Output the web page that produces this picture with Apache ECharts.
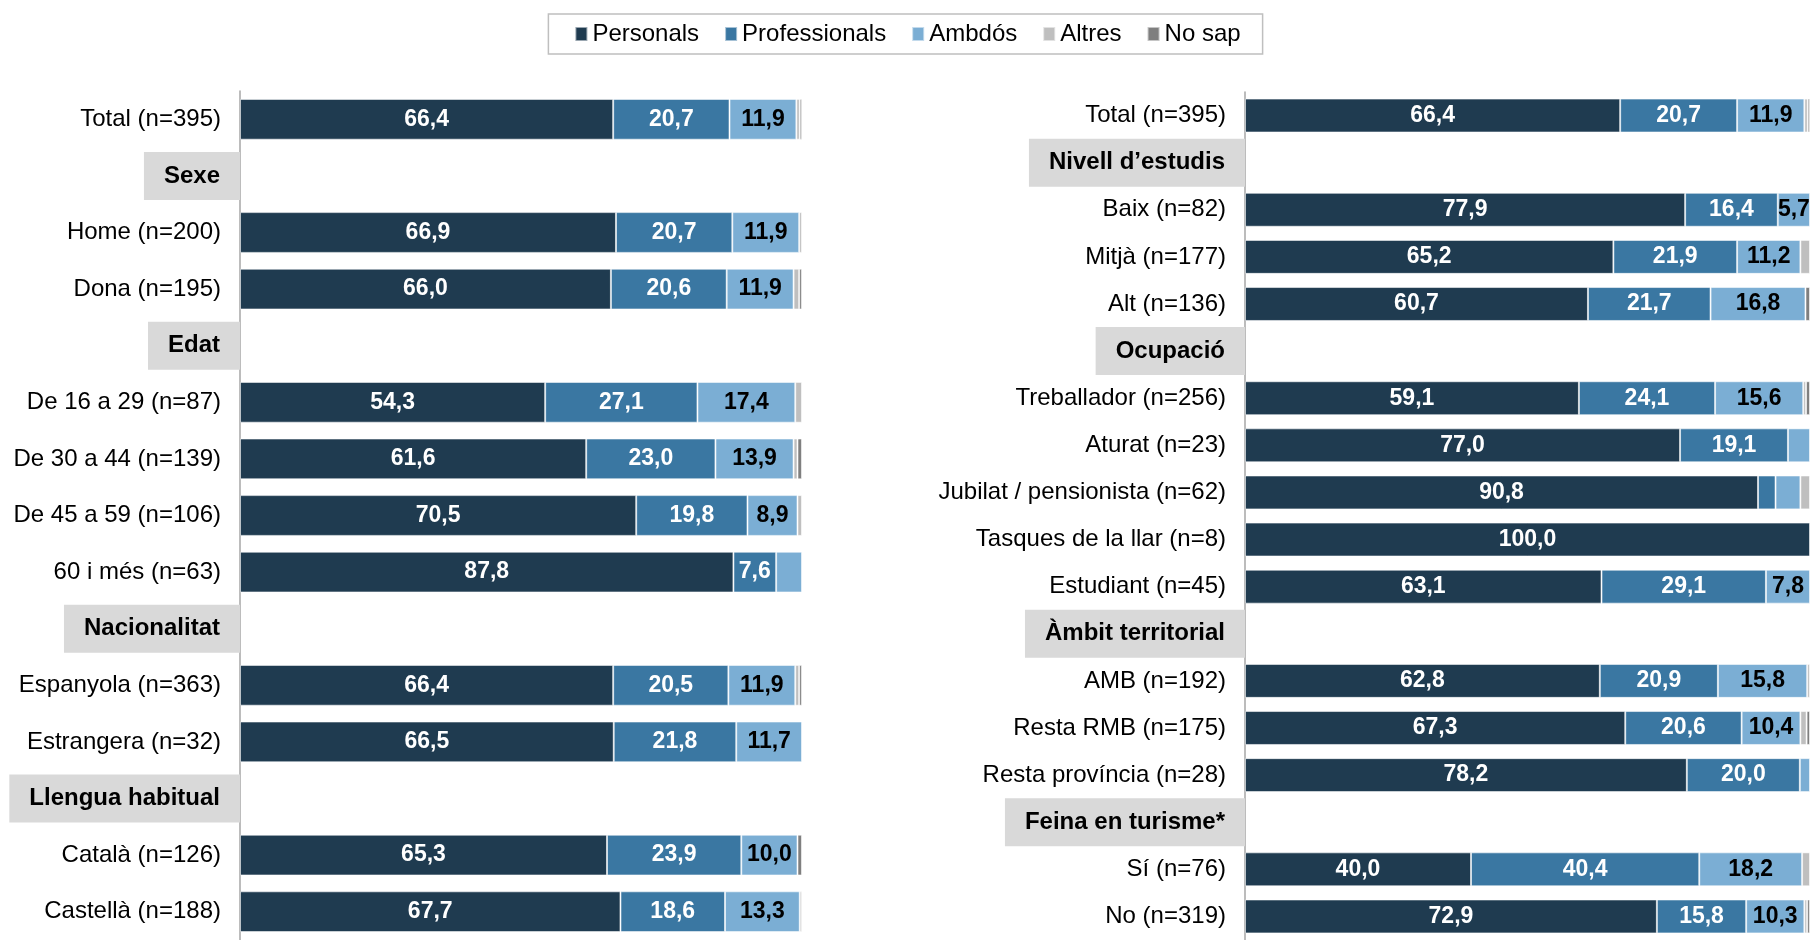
<!DOCTYPE html>
<html>
<head>
<meta charset="utf-8">
<script src="https://cdn.jsdelivr.net/npm/echarts@6/dist/echarts.min.js"></script>
<style>
  html, body { margin: 0; padding: 0; background: #fff; }
  #app { width: 1815px; height: 940px; }
</style>
</head>
<body>
<div id="app"></div>
<script>
const seriesNames = ['Personals', 'Professionals', 'Ambdós', 'Altres', 'No sap']
const colors = ['#1f3b50', '#3a77a2', '#7baed4', '#bfbfbf', '#7f7f7f']

// left panel
const leftCats = ['Total (n=395)', 'Sexe', 'Home (n=200)', 'Dona (n=195)', 'Edat', 'De 16 a 29 (n=87)',
  'De 30 a 44 (n=139)', 'De 45 a 59 (n=106)', '60 i més (n=63)', 'Nacionalitat', 'Espanyola (n=363)',
  'Estrangera (n=32)', 'Llengua habitual', 'Català (n=126)', 'Castellà (n=188)']
const leftHeaders = ['Sexe', 'Edat', 'Nacionalitat', 'Llengua habitual']
const leftPersonals = [66.4, null, 66.9, 66.0, null, 54.3, 61.6, 70.5, 87.8, null, 66.4, 66.5, null, 65.3, 67.7]
const leftProfessionals = [20.7, null, 20.7, 20.6, null, 27.1, 23.0, 19.8, 7.6, null, 20.5, 21.8, null, 23.9, 18.6]
const leftAmbdos = [11.9, null, 11.9, 11.9, null, 17.4, 13.9, 8.9, 4.6, null, 11.9, 11.7, null, 10.0, 13.3]
const leftAltres = [0.6, null, 0.5, 1.0, null, 1.2, 0.7, 0.8, null, null, 0.7, null, null, null, 0.4]
const leftNoSap = [0.4, null, null, 0.5, null, null, 0.8, null, null, null, 0.5, null, null, 0.8, null]

// right panel
const rightCats = ['Total (n=395)', 'Nivell d’estudis', 'Baix (n=82)', 'Mitjà (n=177)', 'Alt (n=136)', 'Ocupació',
  'Treballador (n=256)', 'Aturat (n=23)', 'Jubilat / pensionista (n=62)', 'Tasques de la llar (n=8)',
  'Estudiant (n=45)', 'Àmbit territorial', 'AMB (n=192)', 'Resta RMB (n=175)', 'Resta província (n=28)',
  'Feina en turisme*', 'Sí (n=76)', 'No (n=319)']
const rightHeaders = ['Nivell d’estudis', 'Ocupació', 'Àmbit territorial', 'Feina en turisme*']
const rightPersonals = [66.4, null, 77.9, 65.2, 60.7, null, 59.1, 77.0, 90.8, 100.0, 63.1, null, 62.8, 67.3, 78.2, null, 40.0, 72.9]
const rightProfessionals = [20.7, null, 16.4, 21.9, 21.7, null, 24.1, 19.1, 3.1, null, 29.1, null, 20.9, 20.6, 20.0, null, 40.4, 15.8]
const rightAmbdos = [11.9, null, 5.7, 11.2, 16.8, null, 15.6, 3.9, 4.4, null, 7.8, null, 15.8, 10.4, 1.8, null, 18.2, 10.3]
const rightAltres = [0.6, null, null, 1.7, null, null, 0.5, null, 1.7, null, null, null, 0.5, 1.1, null, null, 1.4, 0.5]
const rightNoSap = [0.4, null, null, null, 0.8, null, 0.7, null, null, null, null, null, null, 0.6, null, null, null, 0.5]

const font = "'Liberation Sans', Arial, sans-serif"
const labelColors = ['#fff', '#fff', '#000', null, null]

const echart = echarts.init(document.getElementById('app'))

function makeYAxis (cats, headers, idx) {
  return {
    type: 'category',
    gridIndex: idx,
    inverse: true,
    data: cats,
    axisTick: { show: false },
    axisLine: { show: true, lineStyle: { color: '#a6a6a6', width: 1.5 } },
    axisLabel: {
      interval: 0,
      margin: 0,
      formatter: v => headers.includes(v) ? '{h|' + v + '}' : '{n|' + v + '}',
      rich: {
        n: { fontSize: 24, fontFamily: font, color: '#000', padding: [0, 19, 0, 0] },
        h: {
          fontSize: 24, fontFamily: font, color: '#000', fontWeight: 'bold',
          backgroundColor: '#d9d9d9', padding: [12, 20, 12, 20], lineHeight: 24
        }
      }
    }
  }
}

function makeSeries (lists, idx, stack) {
  return lists.map((list, i) => ({
    name: seriesNames[i],
    type: 'bar',
    stack: stack,
    xAxisIndex: idx,
    yAxisIndex: idx,
    barWidth: '72%',
    data: list,
    itemStyle: { color: colors[i], borderColor: 'rgba(255,255,255,0.55)', borderWidth: 1 },
    label: {
      show: labelColors[i] !== null,
      position: 'inside',
      color: labelColors[i] || '#000',
      fontSize: 23,
      fontWeight: 'bold',
      fontFamily: font,
      formatter: p => (p.value != null && p.value >= 5) ? p.value.toFixed(1).replace('.', ',') : ''
    }
  }))
}

echart.setOption({
  animation: false,
  legend: {
    top: 14,
    left: 'center',
    data: seriesNames,
    icon: 'rect',
    itemWidth: 12,
    itemHeight: 14,
    itemGap: 25,
    borderColor: '#bfbfbf',
    borderWidth: 1.5,
    padding: [8, 22, 8, 26],
    textStyle: { fontSize: 24, fontFamily: font, color: '#000' }
  },
  grid: [
    { left: 240, top: 91, width: 562, height: 856 },
    { left: 1245, top: 92, width: 565, height: 856 }
  ],
  xAxis: [
    { type: 'value', gridIndex: 0, min: 0, max: 100, show: false },
    { type: 'value', gridIndex: 1, min: 0, max: 100, show: false }
  ],
  yAxis: [
    makeYAxis(leftCats, leftHeaders, 0),
    makeYAxis(rightCats, rightHeaders, 1)
  ],
  series: [
    ...makeSeries([leftPersonals, leftProfessionals, leftAmbdos, leftAltres, leftNoSap], 0, 'L'),
    ...makeSeries([rightPersonals, rightProfessionals, rightAmbdos, rightAltres, rightNoSap], 1, 'R')
  ]
})
</script>
</body>
</html>
